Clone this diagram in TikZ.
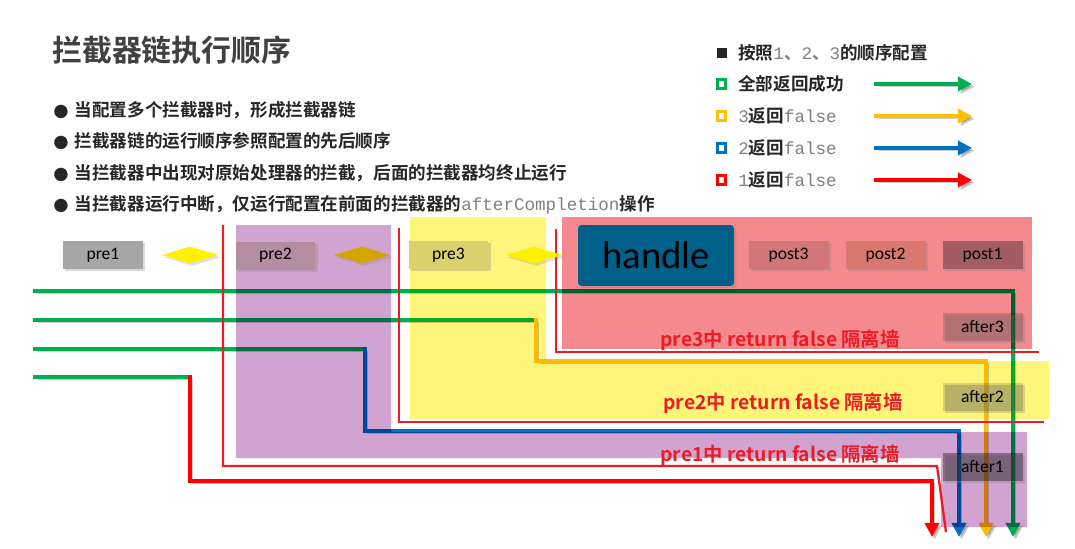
\documentclass[tikz,border=0pt]{standalone}
\usepackage{fontspec}
\setmainfont{Noto Sans CJK SC}[BoldFont={Noto Sans CJK SC Bold}]
\newfontfamily\calibri{Carlito}
\newfontfamily\monof{Liberation Mono}
\newfontfamily\symf{DejaVu Sans}
\usetikzlibrary{arrows.meta,shapes.geometric,shadows}

\definecolor{cGreen}{HTML}{00B050}
\definecolor{cOrange}{HTML}{FFC000}
\definecolor{cBlue}{HTML}{0070C0}
\definecolor{cRed}{HTML}{FF0000}
\definecolor{cWall}{HTML}{EC1C24}
\definecolor{cPurple}{HTML}{D1A3D0}
\definecolor{cYellow}{HTML}{FFF57A}
\definecolor{cPink}{HTML}{F48A8E}
\definecolor{cHandle}{HTML}{00608A}
\definecolor{cTitle}{HTML}{404040}
\definecolor{cText}{HTML}{262626}
\definecolor{cMono}{HTML}{808080}

\newcommand{\mtxt}[1]{{\monof\mdseries\color{cMono}#1}}

\tikzset{
  box/.style={rectangle, minimum width=1.6cm, minimum height=0.56cm, inner sep=0pt,
    font=\calibri\fontsize{10}{12}\selectfont,
    drop shadow={shadow xshift=1.3pt, shadow yshift=-1.3pt, opacity=0.3}},
  gate/.style={diamond, aspect=3.35, inner sep=0pt, minimum width=1.14cm, minimum height=0.34cm,
    drop shadow={shadow xshift=1.3pt, shadow yshift=-1.3pt, opacity=0.25}},
  after/.style={box, fill=black, fill opacity=0.15, text opacity=1},
  flow/.style={line width=2.7pt, line cap=rect,
    preaction={draw=black, opacity=0.2, transform canvas={shift={(1.5pt,-1.5pt)}}}},
  wall/.style={draw=cWall, line width=1.3pt},
  warn/.style={text=cWall, font=\bfseries\fontsize{11}{13}\selectfont},
  lsq/.style={rectangle, inner sep=0pt, minimum size=0.17cm, line width=1.5pt},
  ltxt/.style={anchor=west, inner sep=0pt, text=cText, font=\bfseries\fontsize{10}{12}\selectfont}
}

\begin{document}
\begin{tikzpicture}[x=0.02cm, y=-0.02cm, >={Triangle[length=8pt,width=8pt]}]
\useasboundingbox (0,0) rectangle (1075,548);

% title and notes
\node[anchor=west, inner sep=0pt, text=cTitle, font=\bfseries\fontsize{17}{20}\selectfont] (TTL) at (52,50) {拦截器链执行顺序};
\node[ltxt] (N1) at (53,110) {{\symf ●}\hspace{3.5pt}当配置多个拦截器时，形成拦截器链};
\node[ltxt] (N2) at (53,141) {{\symf ●}\hspace{3.5pt}拦截器链的运行顺序参照配置的先后顺序};
\node[ltxt] (N3) at (53,173) {{\symf ●}\hspace{3.5pt}当拦截器中出现对原始处理器的拦截，后面的拦截器均终止运行};
\node[ltxt] (N4) at (53,205) {{\symf ●}\hspace{3.5pt}当拦截器运行中断，仅运行配置在前面的拦截器的\mtxt{afterCompletion}操作};

% legend
\node[lsq, fill=cText, minimum size=0.2cm] (K0) at (721.5,53) {};
\node[lsq, draw=cGreen] (K1) at (721.5,84) {};
\node[lsq, draw=cOrange] (K2) at (721.5,116) {};
\node[lsq, draw=cBlue] (K3) at (721.5,148) {};
\node[lsq, draw=cRed] (K4) at (721.5,180) {};
\node[ltxt] (L0) at (738,53) {按照\mtxt{1}{\color{cMono}、}\mtxt{2}{\color{cMono}、}\mtxt{3}的顺序配置};
\node[ltxt] (L1) at (738,84) {全部返回成功};
\node[ltxt] (L2) at (738,116) {\mtxt{3}返回\mtxt{false}};
\node[ltxt] (L3) at (738,148) {\mtxt{2}返回\mtxt{false}};
\node[ltxt] (L4) at (738,180) {\mtxt{1}返回\mtxt{false}};
\coordinate (A1) at (876,84);  \coordinate (B1) at (972,84);
\coordinate (A2) at (876,116); \coordinate (B2) at (972,116);
\coordinate (A3) at (876,148); \coordinate (B3) at (972,148);
\coordinate (A4) at (876,180); \coordinate (B4) at (972,180);
\draw[flow, draw=cGreen, ->] (A1) -- (B1);
\draw[flow, draw=cOrange, ->] (A2) -- (B2);
\draw[flow, draw=cBlue, ->] (A3) -- (B3);
\draw[flow, draw=cRed, ->] (A4) -- (B4);

% request paths
\coordinate (S1) at (35,291); \coordinate (E1) at (1013,537);
\coordinate (S2) at (35,320); \coordinate (T2) at (536,320); \coordinate (M2) at (986,361); \coordinate (E2) at (986,537);
\coordinate (S3) at (35,349); \coordinate (T3) at (365,349); \coordinate (M3) at (959,431); \coordinate (E3) at (959,537);
\coordinate (S4) at (35,377); \coordinate (T4) at (190,377); \coordinate (M4) at (932,481); \coordinate (E4) at (932,537);
\draw[flow, draw=cGreen, ->] (S1) -| (E1);
\draw[flow, draw=cGreen] (S2) -- (T2);
\draw[flow, draw=cOrange, ->] (T2) |- (M2) -- (E2);
\draw[flow, draw=cGreen] (S3) -- (T3);
\draw[flow, draw=cBlue, ->] (T3) |- (M3) -- (E3);
\draw[flow, draw=cGreen] (S4) -- (T4);
\draw[flow, draw=cRed, ->] (T4) |- (M4) -- (E4);

% interceptor zones
\begin{scope}[blend mode=multiply]
\fill[cPurple] (236,225) -- (391,225) -- (391,432) -- (1027,432) -- (1027,527) -- (941,527) -- (941,458) -- (236,458) -- cycle;
\fill[cYellow] (410,217) -- (546,217) -- (546,361) -- (1049,361) -- (1049,419) -- (410,419) -- cycle;
\fill[cPink] (562,217) rectangle (1032,349);
\end{scope}

% walls
\coordinate (W1a) at (223,225); \coordinate (W1b) at (937,466); \coordinate (W1c) at (946,532);
\coordinate (W2a) at (399,228); \coordinate (W2b) at (1044,422);
\coordinate (W3a) at (556,229); \coordinate (W3b) at (1039,352);
\draw[wall] (W1a) |- (W1b) -- (W1c);
\draw[wall] (W2a) |- (W2b);
\draw[wall] (W3a) |- (W3b);

% chain
\node[box, fill=black!35] (PRE1) at (103,255) {pre1};
\node[gate, fill=yellow] (D1) at (190,255) {};
\node[box, fill={rgb,255:red,180;green,142;blue,158}] (PRE2) at (275.5,255.5) {pre2};
\node[gate, fill={rgb,255:red,212;green,165;blue,0}] (D2) at (362,255) {};
\node[box, fill={rgb,255:red,217;green,210;blue,108}] (PRE3) at (448.5,255) {pre3};
\node[gate, fill=yellow] (D3) at (534,255) {};
\node[box, fill=cHandle, rounded corners=2pt, minimum width=3.12cm, minimum height=1.22cm,
  font=\calibri\fontsize{22}{24}\selectfont] (HDL) at (656,255.5) {handle};
\node[box, fill={rgb,255:red,210;green,118;blue,124}] (POST3) at (788.5,255) {post3};
\node[box, fill={rgb,255:red,217;green,120;blue,111}] (POST2) at (885.5,255) {post2};
\node[box, fill={rgb,255:red,163;green,93;blue,98}] (POST1) at (982.5,255) {post1};
\node[after] (AFT3) at (982.5,326.5) {after3};
\node[after] (AFT2) at (982.5,396.5) {after2};
\node[after, fill opacity=0.35] (AFT1) at (982.5,466.5) {after1};

% wall labels
\node[warn] (R3) at (780,340) {pre3中 return false 隔离墙};
\node[warn] (R2) at (783,403) {pre2中 return false 隔离墙};
\node[warn] (R1) at (780,455) {pre1中 return false 隔离墙};
\end{tikzpicture}
\end{document}
